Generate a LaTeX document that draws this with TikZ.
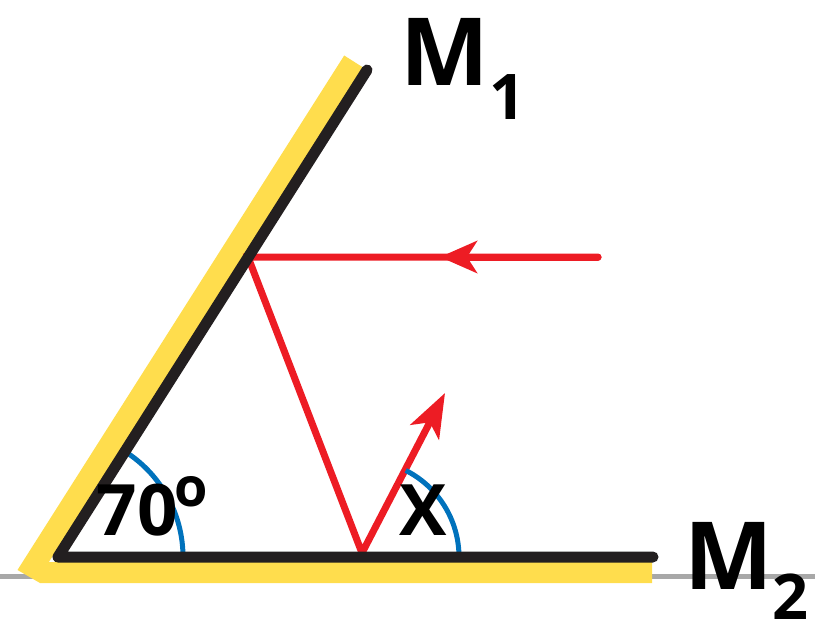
\documentclass[tikz,border=0pt]{standalone}
\usepackage{fontspec}
\setmainfont{Open Sans}
\usetikzlibrary{arrows.meta}
\definecolor{myyellow}{RGB}{255,221,77}
\definecolor{myred}{RGB}{237,28,36}
\definecolor{myblack}{RGB}{35,31,32}
\definecolor{myblue}{RGB}{0,114,188}
\definecolor{mygray}{RGB}{168,168,168}
\tikzset{
  mirror/.style={draw=myblack, line width=11pt, line cap=round, line join=round},
  band/.style={fill=myyellow, draw=none},
  ray/.style={draw=myred, line width=7pt, line cap=round},
  anglearc/.style={draw=myblue, line width=5pt},
  ground/.style={draw=mygray, line width=5pt},
  lab/.style={inner sep=0pt, text=black, anchor=base},
  bigtxt/.style={lab, font=\bfseries\fontsize{94}{94}\selectfont},
  subtxt/.style={lab, font=\bfseries\fontsize{63}{63}\selectfont},
  midtxt/.style={lab, font=\bfseries\fontsize{71}{71}\selectfont},
  suptxt/.style={lab, font=\bfseries\fontsize{54}{54}\selectfont},
}
\begin{document}
\begin{tikzpicture}[x=1pt,y=-1pt]
\useasboundingbox (0,0) rectangle (815,626);
% coordinates
\coordinate (V) at (58,557);
\coordinate (A) at (367,70);
\coordinate (B) at (653,557);
\coordinate (P) at (248,257);
\coordinate (S) at (598,257);
\coordinate (Mid) at (440,257);
\coordinate (R) at (362,553);
\coordinate (T) at (445,393);
\coordinate (G1) at (0,576);
\coordinate (G2) at (815,576);
% ground line
\draw[ground] (G1) -- (G2);
% yellow band
\fill[band] (344.2,55.5) -- (17.5,570) -- (40,583) -- (652,583) -- (652,562) -- (48.9,562) -- (362.8,67.3) -- cycle;
% rays
\draw[ray, -{Stealth[length=44pt, width=32pt, inset=11pt]}] (S) -- (P) -- (R) -- (T);
\draw[ray, -{Stealth[length=37pt, width=32pt, inset=10pt]}] (S) -- (Mid);
% angle arcs
\draw[anglearc] (183,557) arc[start angle=0, end angle=-57.6, radius=125];
\draw[anglearc] (459,557) arc[start angle=0, end angle=-63.2, radius=97];
% mirrors
\draw[mirror] (A) -- (V) -- (B);
% labels
\node[bigtxt] (m1) at (445,85) {M};
\node[subtxt] (m1s) at (507,120) {1};
\node[bigtxt] (m2) at (729,589) {M};
\node[subtxt] (m2s) at (790,619) {2};
\node[midtxt] (ang) at (137,535) {70};
\node[suptxt] (deg) at (191,506) {o};
\node[midtxt] (x) at (423,535) {X};
\end{tikzpicture}
\end{document}
